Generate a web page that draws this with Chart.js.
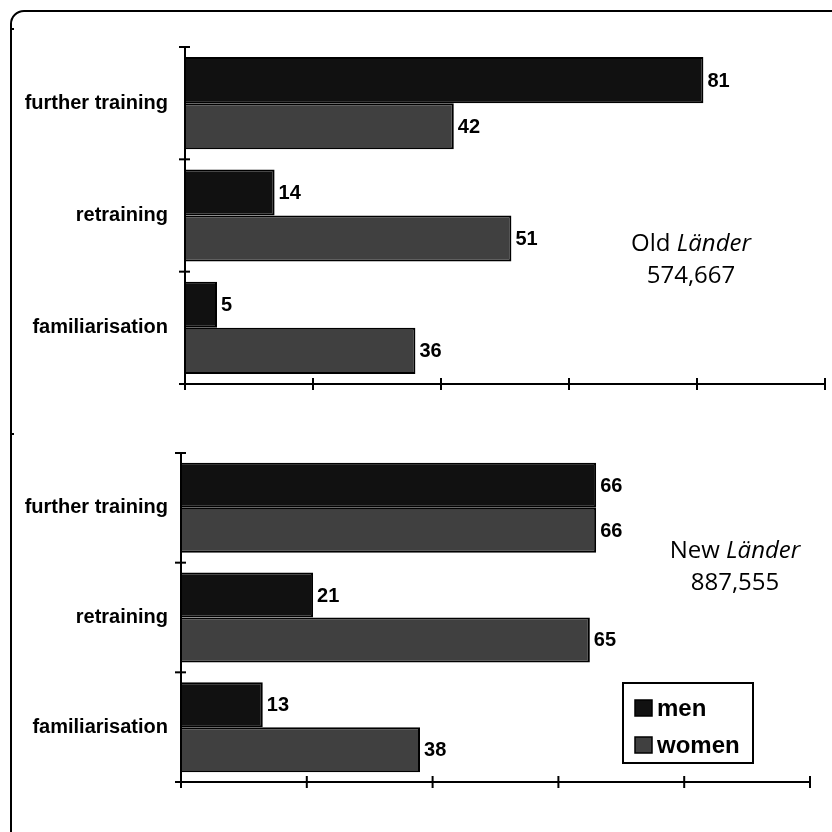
<html>
<head>
    <title>Training by sex</title>
    <script src="https://cdn.jsdelivr.net/npm/chart.js"></script>
    <style>
        body { margin: 0; width: 832px; height: 832px; overflow: hidden; background: #fff; position: relative; }
        #frame { position: absolute; left: 10px; top: 10px; width: 900px; height: 900px; border: 2px solid #000; border-radius: 14px; }
        .dot { position: absolute; left: 12px; width: 2px; height: 2px; background: #000; }
        canvas { position: absolute; left: 0; }
        .note { position: absolute; width: 200px; text-align: center; font-family: "Open Sans", sans-serif; font-size: 24px; line-height: 32px; color: #000; }
    </style>
</head>
<body>
<div id="frame"></div>
<div class="dot" style="top:28px"></div>
<div class="dot" style="top:433px"></div>
<canvas id="graph_old" width="832" height="420" style="top:0"></canvas>
<canvas id="graph_new" width="832" height="412" style="top:420px"></canvas>
<div class="note" style="left:591px; top:226px">Old <i>Länder</i><br>574,667</div>
<div class="note" style="left:635px; top:533px">New <i>Länder</i><br>887,555</div>
<script>
    // data
    const categories = ['further training', 'retraining', 'familiarisation'];
    const series_names = ['men', 'women'];
    const old_men = [81, 14, 5];
    const old_women = [42, 51, 36];
    const new_men = [66, 21, 13];
    const new_women = [66, 65, 38];
    const x_ticks = [0, 20, 40, 60, 80, 100];

    const colors = ['#111111', '#404040'];

    function line(ctx, x1, y1, x2, y2) {
        ctx.beginPath();
        ctx.moveTo(x1, y1);
        ctx.lineTo(x2, y2);
        ctx.stroke();
    }

    // axis lines and crossing tick marks
    const axes_plugin = {
        id: 'axes_plugin',
        afterDatasetsDraw(chart) {
            const ctx = chart.ctx;
            const area = chart.chartArea;
            const xs = chart.scales.x;
            const ys = chart.scales.y;
            const x0 = xs.getPixelForValue(0);
            ctx.save();
            ctx.strokeStyle = '#000';
            ctx.lineWidth = 2;
            line(ctx, x0, area.top, x0, area.bottom);
            line(ctx, x0, area.bottom, xs.getPixelForValue(100), area.bottom);
            x_ticks.forEach(v => {
                const px = xs.getPixelForValue(v);
                line(ctx, px, area.bottom - 6, px, area.bottom + 6);
            });
            for (let i = 0; i <= categories.length; i++) {
                const py = ys.getPixelForValue(i - 0.5);
                line(ctx, x0 - 6, py, x0 + 5, py);
            }
            ctx.restore();
        }
    };

    // value labels at the bar ends
    const values_plugin = {
        id: 'values_plugin',
        afterDatasetsDraw(chart) {
            const ctx = chart.ctx;
            ctx.save();
            ctx.font = 'bold 20px "Liberation Sans", Arial, sans-serif';
            ctx.fillStyle = '#000';
            ctx.textAlign = 'left';
            ctx.textBaseline = 'middle';
            chart.data.datasets.forEach((ds, i) => {
                chart.getDatasetMeta(i).data.forEach((bar, j) => {
                    ctx.fillText(String(ds.data[j]), bar.x + 4, bar.y + 1);
                });
            });
            ctx.restore();
        }
    };

    // boxed legend in the lower chart
    const legend_plugin = {
        id: 'legend_plugin',
        afterDraw(chart, args, opts) {
            if (!opts.show) return;
            const ctx = chart.ctx;
            ctx.save();
            ctx.strokeStyle = '#000';
            ctx.lineWidth = 2;
            ctx.strokeRect(623, 263, 130, 80);
            ctx.font = 'bold 24px "Liberation Sans", Arial, sans-serif';
            ctx.textBaseline = 'alphabetic';
            chart.data.datasets.forEach((ds, i) => {
                const top = 280 + i * 37;
                ctx.fillStyle = ds.backgroundColor;
                ctx.fillRect(635, top, 17, 16);
                ctx.lineWidth = 1.5;
                ctx.strokeRect(635, top, 17, 16);
                ctx.fillStyle = '#000';
                ctx.fillText(ds.label, 657, top + 16);
            });
            ctx.restore();
        }
    };

    function make_chart(id, men, women, y_width, padding, label_pad, show_legend) {
        const data = {
            labels: categories,
            datasets: [men, women].map((values, i) => ({
                label: series_names[i],
                data: values,
                backgroundColor: colors[i],
                borderColor: '#000',
                borderWidth: 2,
                borderSkipped: 'start',
                categoryPercentage: 0.82,
                barPercentage: 1.0
            }))
        };
        const config = {
            type: 'bar',
            data: data,
            options: {
                indexAxis: 'y',
                responsive: false,
                animation: false,
                layout: { padding: padding },
                plugins: {
                    legend: { display: false },
                    tooltip: { enabled: false },
                    legend_plugin: { show: show_legend }
                },
                scales: {
                    x: { display: false, min: 0, max: 100 },
                    y: {
                        grid: { display: false, drawTicks: false },
                        border: { display: false },
                        ticks: {
                            color: '#000',
                            padding: label_pad,
                            font: { family: '"Liberation Sans", Arial, sans-serif', size: 20, weight: 'bold' }
                        },
                        afterFit(scale) { scale.width = y_width; }
                    }
                }
            },
            plugins: [axes_plugin, values_plugin, legend_plugin]
        };
        return new Chart(document.getElementById(id), config);
    }

    make_chart('graph_old', old_men, old_women, 185, { top: 47, right: 7, bottom: 36, left: 0 }, 17, false);
    make_chart('graph_new', new_men, new_women, 181, { top: 33, right: 22, bottom: 50, left: 0 }, 13, true);
</script>
</body>
</html>
